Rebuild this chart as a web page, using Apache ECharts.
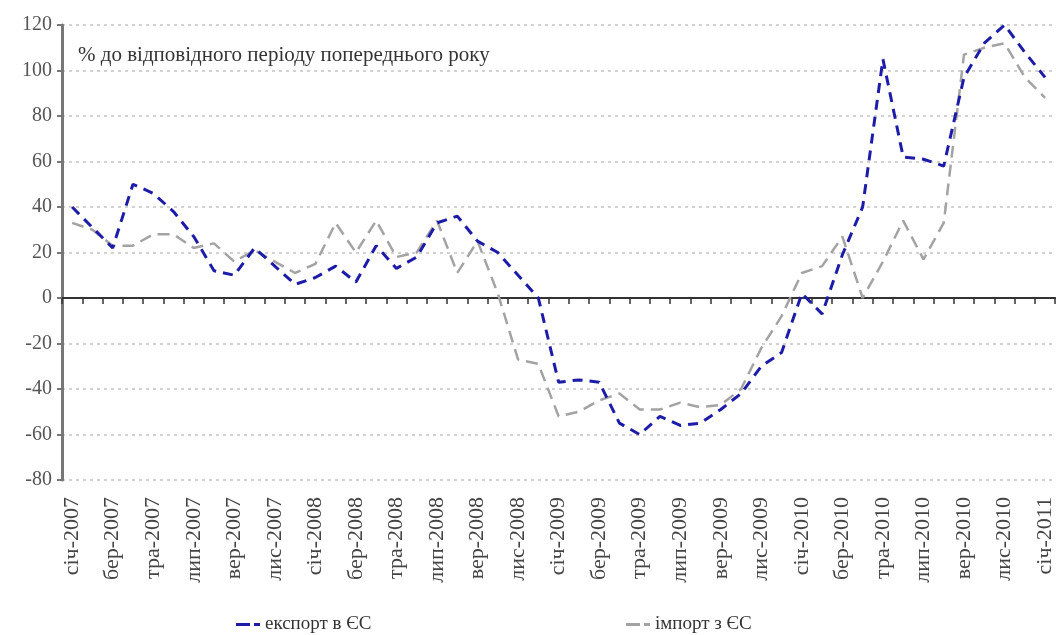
<!DOCTYPE html>
<html>
<head>
<meta charset="utf-8">
<script src="https://cdn.jsdelivr.net/npm/echarts@6/dist/echarts.min.js"></script>
<style>
html,body{margin:0;padding:0;background:#fff;}
#chart{width:1056px;height:635px;}
</style>
</head>
<body>
<div id="chart"></div>
<script>
const months = ['січ','лют','бер','кві','тра','чер','лип','сер','вер','жов','лис','гру'];
const categories = [];
for (let y = 2007; y <= 2011; y++) {
  for (let m = 0; m < 12; m++) {
    if (y === 2011 && m > 0) break;
    categories.push(months[m] + '-' + y);
  }
}
const exportEU = [40,31,22,50,46,38,27,12,10,22,14,6,9,14,7,23,13,18,33,36,25,20,10,0,
  -37,-36,-37,-55,-60,-52,-56,-55,-49,-42,-30,-24,2,-7,19,40,105,62,61,58,97,112,120,108,97];
const importEU = [33,30,23,23,28,28,22,24,16,21,16,11,15,33,20,34,18,20,34,11,25,2,-27,-29,
  -52,-50,-45,-42,-49,-49,-46,-48,-47,-40,-22,-8,11,14,27,0,16,34,17,33,107,110,112,97,88];
const seriesNames = ['експорт в ЄС', 'імпорт з ЄС'];
const titleText = '% до відповідного періоду попереднього року';

const serif = 'Liberation Serif';
const chart = echarts.init(document.getElementById('chart'));
chart.setOption({
  animation: false,
  backgroundColor: '#fff',
  title: {
    text: titleText, left: 73, top: 40,
    textStyle: {fontFamily: serif, fontSize: 21, fontWeight: 'normal', color: '#333'}
  },
  grid: {left: 62, right: -7, top: 25, bottom: 155},
  legend: [
    {data: [seriesNames[0]], left: 231, top: 610, itemWidth: 24, itemHeight: 3, itemGap: 5,
     icon: 'path://M0,0h14v3h-14z M18,0h6v3h-6z',
     textStyle: {fontFamily: serif, fontSize: 19, color: '#333'}},
    {data: [seriesNames[1]], left: 621, top: 610, itemWidth: 24, itemHeight: 3,
     icon: 'path://M0,0h14v3h-14z M18,0h6v3h-6z',
     textStyle: {fontFamily: serif, fontSize: 19, color: '#333'}}
  ],
  xAxis: [
    {type: 'category', data: categories, boundaryGap: true, position: 'bottom',
     axisLine: {onZero: true, lineStyle: {color: '#333', width: 2}},
     axisTick: {show: true, interval: 0, length: 6, lineStyle: {color: '#333', width: 1.5}},
     axisLabel: {show: false}, splitLine: {show: false}},
    {type: 'category', data: categories, boundaryGap: true, position: 'bottom',
     axisLine: {show: false, onZero: false}, axisTick: {show: false},
     axisLabel: {show: true, interval: 1, rotate: 90, margin: 17,
       fontFamily: serif, fontSize: 22, color: '#444'},
     splitLine: {show: false}}
  ],
  yAxis: {
    type: 'value', min: -80, max: 120, interval: 20,
    axisLine: {show: true, lineStyle: {color: '#777', width: 3}},
    axisTick: {show: true, length: 5, lineStyle: {color: '#777', width: 2}},
    axisLabel: {fontFamily: serif, fontSize: 20, color: '#555', margin: 10},
    splitLine: {show: true, lineStyle: {color: '#c4c4c4', type: [3, 4], width: 1.5}}
  },
  series: [
    {name: seriesNames[0], type: 'line', data: exportEU, xAxisIndex: 0,
     symbol: 'none', itemStyle: {color: '#1c1ca8'},
     lineStyle: {color: '#1c1ca8', width: 3, type: [10, 7]}, z: 3},
    {name: seriesNames[1], type: 'line', data: importEU, xAxisIndex: 0,
     symbol: 'none', itemStyle: {color: '#a3a3a3'},
     lineStyle: {color: '#a3a3a3', width: 2.5, type: [12, 7]}, z: 2}
  ]
});
</script>
</body>
</html>
